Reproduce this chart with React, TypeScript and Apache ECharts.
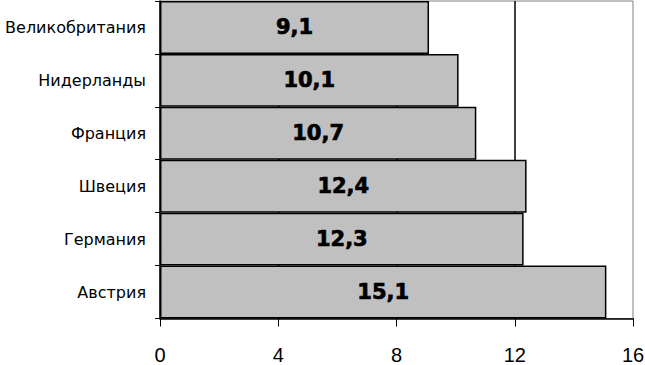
import React, { useEffect, useRef } from "react";
import * as echarts from "echarts";

const categories = ["Австрия", "Германия", "Швеция", "Франция", "Нидерланды", "Великобритания"];
const values = [15.1, 12.3, 12.4, 10.7, 10.1, 9.1];
const xTicks = [0, 4, 8, 12, 16];

export default function App() {
  const ref = useRef<HTMLDivElement>(null);
  useEffect(() => {
    if (!ref.current) return;
    const chart = echarts.init(ref.current, undefined, { renderer: "svg" });
    chart.setOption({
      animation: false,
      backgroundColor: "#ffffff",
      grid: {
        left: 160,
        right: 12,
        top: 1,
        bottom: 46.5,
        outerBoundsMode: "none",
        show: true,
        borderColor: "#808080",
        borderWidth: 1,
        backgroundColor: "transparent",
      },
      xAxis: {
        type: "value",
        min: xTicks[0],
        max: xTicks[xTicks.length - 1],
        interval: 4,
        axisLine: { show: true, lineStyle: { color: "#000", width: 1.5 } },
        axisTick: { show: true, length: 8, lineStyle: { color: "#000", width: 1 } },
        axisLabel: {
          color: "#000",
          fontSize: 20,
          lineHeight: 20,
          fontFamily: "'Liberation Sans', Arial, sans-serif",
          margin: 26,
        },
        splitLine: { show: true, showMinLine: false, showMaxLine: false, lineStyle: { color: "#000", width: 1.5 } },
      },
      yAxis: {
        type: "category",
        data: categories,
        axisLine: { show: true, lineStyle: { color: "#000", width: 1.5 } },
        axisTick: { show: true, length: 5, lineStyle: { color: "#000", width: 1 } },
        axisLabel: {
          color: "#000",
          fontSize: 16,
          fontFamily: "'DejaVu Sans', sans-serif",
          margin: 14,
        },
      },
      series: [
        {
          type: "bar",
          data: values,
          barCategoryGap: "0%",
          itemStyle: {
            color: "#c0c0c0",
            borderColor: "#000",
            borderWidth: 1.5,
          },
          label: {
            show: true,
            position: "inside",
            color: "#000",
            fontSize: 21,
            fontWeight: "bold",
            fontFamily: "'DejaVu Sans', sans-serif",
            textBorderColor: "#000",
            textBorderWidth: 0.7,
            formatter: (p: any) => String(p.value).replace(".", ","),
          },
        },
      ],
    });
    return () => chart.dispose();
  }, []);
  return (
    <div
      ref={ref}
      style={{ position: "fixed", left: 0, top: 0, width: 645, height: 365 }}
    />
  );
}
